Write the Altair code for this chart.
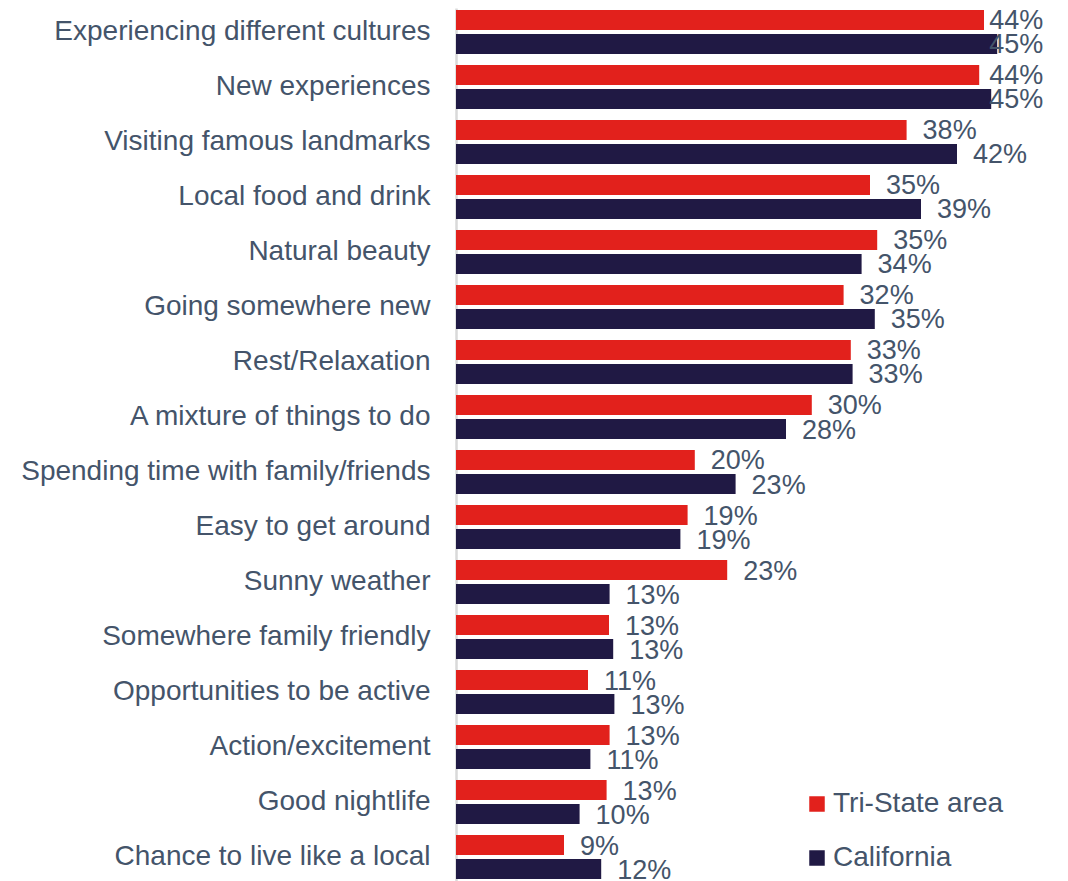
import altair as alt
import pandas as pd

categories = [
    "Experiencing different cultures",
    "New experiences",
    "Visiting famous landmarks",
    "Local food and drink",
    "Natural beauty",
    "Going somewhere new",
    "Rest/Relaxation",
    "A mixture of things to do",
    "Spending time with family/friends",
    "Easy to get around",
    "Sunny weather",
    "Somewhere family friendly",
    "Opportunities to be active",
    "Action/excitement",
    "Good nightlife",
    "Chance to live like a local",
]
series = ["Tri-State area", "California"]
tri_state = [44.0, 43.6, 37.55, 34.5, 35.1, 32.3, 32.9, 29.65, 19.9, 19.3, 22.6, 12.75, 11.0, 12.8, 12.55, 9.0]
california = [45.1, 44.6, 41.75, 38.75, 33.8, 34.9, 33.05, 27.5, 23.3, 18.7, 12.8, 13.1, 13.2, 11.2, 10.3, 12.1]
tri_state_labels = ["44%", "44%", "38%", "35%", "35%", "32%", "33%", "30%", "20%", "19%", "23%", "13%", "11%", "13%", "13%", "9%"]
california_labels = ["45%", "45%", "42%", "39%", "34%", "35%", "33%", "28%", "23%", "19%", "13%", "13%", "13%", "11%", "10%", "12%"]

rows = []
for i, c in enumerate(categories):
    rows.append({"category": c, "series": series[0], "value": tri_state[i], "label": tri_state_labels[i]})
    rows.append({"category": c, "series": series[1], "value": california[i], "label": california_labels[i]})
df = pd.DataFrame(rows)

FONT = "Liberation Sans"
TEXT = "#44546A"
COLORS = ["#E2211C", "#201944"]

y = alt.Y(
    "category:N",
    sort=categories,
    scale=alt.Scale(paddingInner=0.2, paddingOuter=0.036),
    axis=alt.Axis(
        title=None, ticks=False, labelFontSize=28, labelColor=TEXT, labelFont=FONT,
        labelPadding=26, domainColor="#D9D9D9", domainWidth=2.5, labelLimit=0, grid=False,
    ),
)
yoff = alt.YOffset("series:N", sort=series, scale=alt.Scale(paddingInner=0.167, paddingOuter=0))
xscale = alt.Scale(domain=[0, 49], nice=False, zero=True)

color = alt.Color(
    "series:N",
    sort=series,
    scale=alt.Scale(domain=series, range=COLORS),
    legend=alt.Legend(
        title=None, orient="none", legendX=347, legendY=782, symbolType="square",
        symbolSize=240, labelFontSize=28, labelColor=TEXT, labelFont=FONT, labelLimit=0,
        rowPadding=26, labelOffset=2, padding=0, symbolStrokeWidth=0, symbolOpacity=1,
    ),
)

bars = alt.Chart(df).mark_bar().encode(
    y=y, yOffset=yoff, x=alt.X("value:Q", scale=xscale, axis=None), color=color
)

labels = (
    alt.Chart(df)
    .transform_calculate(lx="min(datum.value, 43.1)")
    .mark_text(align="left", baseline="middle", dx=16, dy=1.5, fontSize=27, font=FONT, color=TEXT)
    .encode(y=y, yOffset=yoff, x=alt.X("lx:Q", scale=xscale, axis=None), text="label:N")
)

chart = (
    alt.layer(bars, labels)
    .properties(
        width=588,
        height=873,
        padding={"left": 448, "top": 0, "right": 8, "bottom": 0},
        autosize=alt.AutoSizeParams(type="none"),
    )
    .configure_view(stroke=None)
)

chart.save("out.html", embed_options={"renderer": "svg", "actions": False})
